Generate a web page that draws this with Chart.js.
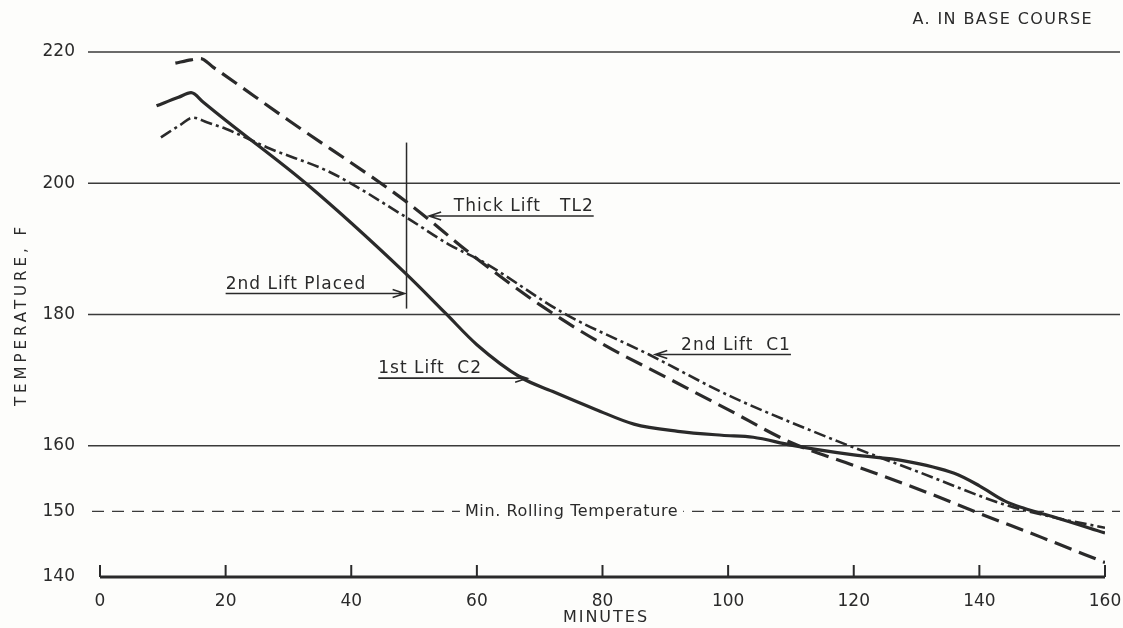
<!DOCTYPE html>
<html>
<head>
<meta charset="utf-8">
<script src="https://cdn.jsdelivr.net/npm/chart.js@4.4.1/dist/chart.umd.min.js"></script>
<style>
  html, body { margin: 0; padding: 0; background: #fdfdfb; }
  #wrap { width: 1123px; height: 628px; }
</style>
</head>
<body>
<div id="wrap"><canvas id="tempChart" width="1123" height="628"></canvas></div>
<script>
// Temperature in base course vs. minutes
const c2Minutes = [9, 12.5, 14.5, 16.5, 20, 33, 48.6, 55, 60, 67, 72, 79, 85, 92, 99, 104, 110, 120, 128, 136, 140, 144, 147, 152, 160];
const c2Temps   = [211.8, 213.1, 213.8, 212.3, 209.6, 199.8, 186.3, 180.2, 175.4, 170.4, 168.3, 165.5, 163.3, 162.2, 161.6, 161.3, 160.1, 158.6, 157.7, 155.8, 153.9, 151.6, 150.5, 149.1, 146.7];

const tl2Minutes = [12, 14.5, 16, 18, 30, 48.6, 60, 70, 80, 90, 100, 110, 120, 130, 140, 150, 160];
const tl2Temps   = [218.3, 218.8, 219.0, 217.7, 209.6, 197.3, 188.5, 181.5, 175.5, 170.5, 165.5, 160.5, 157.0, 153.5, 149.7, 146.0, 142.2];

const c1Minutes = [9.7, 12.8, 14.8, 17, 20, 27, 36.8, 48.6, 55.5, 61, 74, 87.4, 98.7, 103, 117.4, 130.6, 143.8, 151.8, 160];
const c1Temps   = [207.0, 208.9, 210.0, 209.3, 208.3, 205.3, 201.6, 194.9, 190.7, 188.0, 180.1, 173.9, 168.3, 166.4, 160.7, 155.9, 151.1, 149.1, 147.5];

const placedMinute = 48.8;
const placedTemps = [180.9, 206.2];

const xTickValues = [0, 20, 40, 60, 80, 100, 120, 140, 160];
const yTickValues = [140, 150, 160, 180, 200, 220];
const ruleTemps = [160, 180, 200, 220];
const minRollingTemp = 150;

// callouts: text sits on an underline that ends in an arrow
const notes = [
  { text: 'Thick Lift   TL2', from: 78.6, to: 52.4, temp: 195.0 },
  { text: '2nd Lift Placed', from: 20.0, to: 48.5, temp: 183.2 },
  { text: '1st Lift  C2', from: 44.3, to: 68.0, temp: 170.3 },
  { text: '2nd Lift  C1', from: 110.0, to: 88.4, temp: 173.9 }
];

const ink = '#2a2a2a';
const font = 'DejaVu Sans';

function toPoints(xs, ys) {
  return xs.map((m, i) => ({ x: m, y: ys[i] }));
}

function drawArrow(ctx, x1, x2, y) {
  const dir = Math.sign(x2 - x1);
  ctx.beginPath();
  ctx.moveTo(x1, y);
  ctx.lineTo(x2, y);
  ctx.moveTo(x2 - dir * 12, y - 4);
  ctx.lineTo(x2, y);
  ctx.lineTo(x2 - dir * 12, y + 4);
  ctx.stroke();
}

const decor = {
  id: 'decor',
  beforeDatasetsDraw(chart) {
    const { ctx, chartArea, scales: { x, y } } = chart;
    ctx.save();
    ctx.strokeStyle = '#3a3a3a';
    ctx.lineWidth = 1.3;
    ruleTemps.forEach(t => {
      const py = y.getPixelForValue(t);
      ctx.beginPath();
      ctx.moveTo(chartArea.left - 12, py);
      ctx.lineTo(chartArea.right + 15, py);
      ctx.stroke();
    });
    // minimum rolling temperature
    const ry = y.getPixelForValue(minRollingTemp);
    ctx.lineWidth = 1.2;
    ctx.setLineDash([12, 8]);
    ctx.beginPath();
    ctx.moveTo(chartArea.left - 8, ry);
    ctx.lineTo(chartArea.right + 15, ry);
    ctx.stroke();
    ctx.setLineDash([]);
    ctx.font = '16px "' + font + '"';
    ctx.letterSpacing = '0.6px';
    const label = 'Min. Rolling Temperature';
    const lx = x.getPixelForValue(58.1);
    const w = ctx.measureText(label).width;
    ctx.fillStyle = '#fdfdfb';
    ctx.fillRect(lx - 5, ry - 10, w + 10, 20);
    ctx.fillStyle = ink;
    ctx.textBaseline = 'middle';
    ctx.fillText(label, lx, ry);
    ctx.restore();
  },
  afterDraw(chart) {
    const { ctx, chartArea, scales: { x, y } } = chart;
    ctx.save();
    ctx.strokeStyle = ink;
    ctx.fillStyle = ink;
    // x axis with upward ticks
    const by = y.getPixelForValue(140);
    ctx.lineWidth = 3;
    ctx.beginPath();
    ctx.moveTo(chartArea.left, by);
    ctx.lineTo(chartArea.right, by);
    ctx.stroke();
    ctx.lineWidth = 2;
    xTickValues.forEach(v => {
      const px = x.getPixelForValue(v);
      ctx.beginPath();
      ctx.moveTo(px, by);
      ctx.lineTo(px, by - 12);
      ctx.stroke();
    });
    // callouts
    ctx.font = '17px "' + font + '"';
    ctx.letterSpacing = '1px';
    ctx.textBaseline = 'alphabetic';
    ctx.lineWidth = 1.6;
    notes.forEach(n => {
      const x1 = x.getPixelForValue(n.from);
      const x2 = x.getPixelForValue(n.to);
      const py = y.getPixelForValue(n.temp);
      drawArrow(ctx, x1, x2, py);
      ctx.textAlign = x2 < x1 ? 'right' : 'left';
      ctx.fillText(n.text, x1, py - 5);
    });
    // titles
    ctx.font = '16px "' + font + '"';
    ctx.letterSpacing = '1.4px';
    ctx.textAlign = 'right';
    ctx.textBaseline = 'middle';
    ctx.fillText('A. IN BASE COURSE', chartArea.right - 12, 20);
    ctx.textAlign = 'center';
    ctx.letterSpacing = '2px';
    ctx.fillText('MINUTES', 606, 618);
    ctx.translate(22, (chartArea.top + chartArea.bottom) / 2);
    ctx.rotate(-Math.PI / 2);
    ctx.font = '15px "' + font + '"';
    ctx.letterSpacing = '4px';
    ctx.fillText('TEMPERATURE, F', 0, 0);
    ctx.restore();
  }
};

new Chart(document.getElementById('tempChart'), {
  type: 'line',
  data: {
    datasets: [
      {
        label: '1st Lift C2',
        data: toPoints(c2Minutes, c2Temps),
        borderColor: ink,
        borderWidth: 3.2,
        cubicInterpolationMode: 'monotone'
      },
      {
        label: 'Thick Lift TL2',
        data: toPoints(tl2Minutes, tl2Temps),
        borderColor: ink,
        borderWidth: 3.2,
        borderDash: [18, 8],
        cubicInterpolationMode: 'monotone'
      },
      {
        label: '2nd Lift C1',
        data: toPoints(c1Minutes, c1Temps),
        borderColor: ink,
        borderWidth: 2.6,
        borderDash: [12, 4, 3, 4],
        cubicInterpolationMode: 'monotone'
      },
      {
        label: '2nd Lift Placed',
        data: [{ x: placedMinute, y: placedTemps[0] }, { x: placedMinute, y: placedTemps[1] }],
        borderColor: ink,
        borderWidth: 1.5
      }
    ]
  },
  options: {
    responsive: false,
    animation: false,
    layout: { padding: { top: 52, right: 18, left: 0, bottom: 0 } },
    elements: { point: { radius: 0 }, line: { fill: false } },
    plugins: { legend: { display: false }, tooltip: { enabled: false } },
    scales: {
      x: {
        type: 'linear',
        min: 0,
        max: 160,
        afterBuildTicks: s => { s.ticks = xTickValues.map(v => ({ value: v })); },
        afterFit: s => { s.height = 51; s.paddingRight = 0; s.paddingLeft = 0; },
        grid: { display: false },
        border: { display: false },
        ticks: { padding: 6, autoSkip: false, maxRotation: 0, color: ink, font: { family: font, size: 17 } }
      },
      y: {
        min: 140,
        max: 220,
        afterBuildTicks: s => { s.ticks = yTickValues.map(v => ({ value: v })); },
        afterFit: s => { s.width = 100; },
        grid: { display: false },
        border: { display: false },
        ticks: { padding: 17, color: ink, font: { family: font, size: 17 } }
      }
    }
  },
  plugins: [decor]
});
</script>
</body>
</html>
